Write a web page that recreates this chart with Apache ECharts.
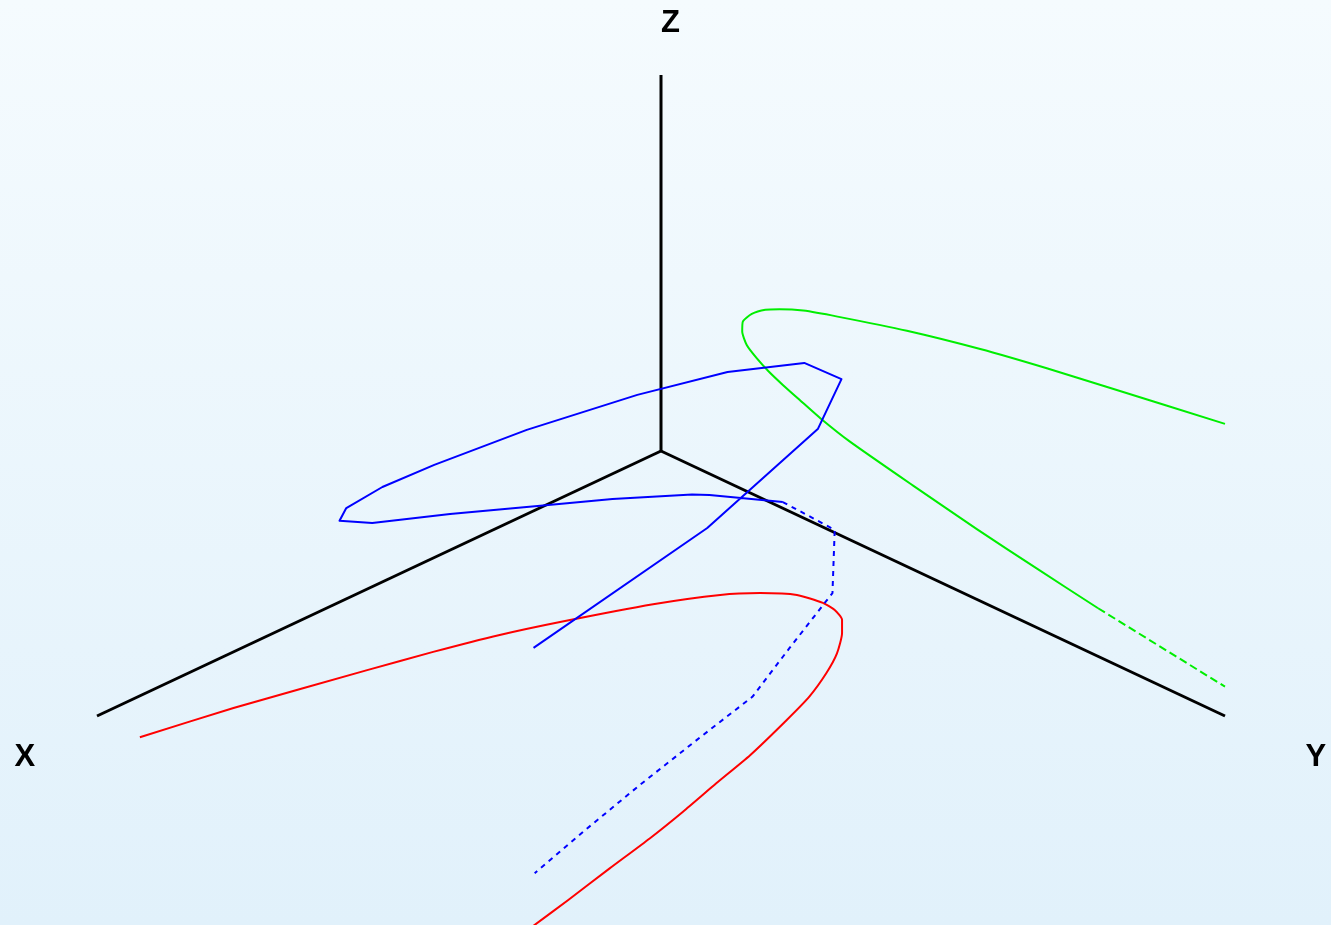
<!DOCTYPE html>
<html>
<head>
<meta charset="utf-8">
<title>3D curve with projections</title>
<script src="https://cdn.jsdelivr.net/npm/echarts@6/dist/echarts.min.js"></script>
<style>
  html, body { margin: 0; padding: 0; width: 100%; height: 100%; overflow: hidden; }
  #chart { width: 1331px; height: 925px; }
</style>
</head>
<body>
<div id="chart"></div>
<script>
// ---- data (x, y, z in box units) ----
const axisEnds = {
  X: [[0, 0, 0], [1, 0, 0]],
  Y: [[0, 0, 0], [0, 1, 0]],
  Z: [[0, 0, 0], [0, 0, 1]]
};
const axisLabels = [
  { name: 'X', pos: [1.128, 0, -0.019] },
  { name: 'Y', pos: [0, 1.161, 0.004] },
  { name: 'Z', pos: [0, 0.017, 1.148] }
];

// projection onto the floor (z = 0)
const redCurve = [
  [1.002, 0.078, 0], [0.864, 0.106, 0], [0.674, 0.153, 0], [0.581, 0.177, 0],
  [0.490, 0.204, 0], [0.412, 0.233, 0], [0.296, 0.282, 0],
  [0.219, 0.324, 0], [0.180, 0.356, 0], [0.151, 0.392, 0], [0.143, 0.430, 0],
  [0.146, 0.454, 0], [0.158, 0.479, 0], [0.183, 0.504, 0], [0.226, 0.538, 0],
  [0.273, 0.566, 0], [0.332, 0.595, 0], [0.396, 0.619, 0], [0.495, 0.653, 0],
  [0.578, 0.676, 0], [0.661, 0.700, 0], [0.741, 0.721, 0], [0.833, 0.742, 0],
  [0.930, 0.765, 0], [1.010, 0.783, 0]
];

// projection onto the back wall (x = 0)
const greenCurve = [
  [0, 1.000, 0.777], [0, 0.801, 0.730], [0, 0.684, 0.702], [0, 0.566, 0.670],
  [0, 0.436, 0.627], [0, 0.313, 0.578], [0, 0.252, 0.551], [0, 0.210, 0.525],
  [0, 0.185, 0.506], [0, 0.161, 0.478], [0, 0.145, 0.446], [0, 0.144, 0.419],
  [0, 0.152, 0.389], [0, 0.170, 0.366], [0, 0.191, 0.346], [0, 0.216, 0.328],
  [0, 0.246, 0.309], [0, 0.283, 0.286], [0, 0.335, 0.261], [0, 0.447, 0.223],
  [0, 0.560, 0.187], [0, 0.666, 0.157], [0, 0.775, 0.128]
];
const greenCurveHidden = [
  [0, 0.775, 0.128], [0, 1.000, 0.078]
];

// the space curve itself
const blueCurve = [
  [0.713, 0.487, 0.322], [0.559, 0.641, 0.641], [0.461, 0.739, 0.904],
  [0.440, 0.760, 1.037], [0.473, 0.727, 1.080], [0.541, 0.659, 1.056],
  [0.621, 0.579, 0.995], [0.719, 0.481, 0.902], [0.801, 0.399, 0.809],
  [0.847, 0.353, 0.750], [0.879, 0.321, 0.694], [0.885, 0.315, 0.660],
  [0.856, 0.344, 0.654], [0.787, 0.413, 0.678], [0.707, 0.493, 0.700],
  [0.643, 0.557, 0.718], [0.573, 0.628, 0.731], [0.557, 0.643, 0.729],
  [0.492, 0.708, 0.710]
];
const blueCurveHidden = [
  [0.492, 0.708, 0.710], [0.446, 0.754, 0.636], [0.448, 0.752, 0.468],
  [0.461, 0.739, 0.418], [0.486, 0.714, 0.322], [0.519, 0.681, 0.192],
  [0.565, 0.635, 0.085], [0.619, 0.581, -0.043], [0.667, 0.533, -0.162],
  [0.712, 0.488, -0.277]
];

// ---- view ----
const ORIGIN = [661, 451];             // where (0,0,0) lands on the canvas
const PX = { h: 564, d: 265, z: 376 }; // pixel extent of a unit along each screen direction
const W = 1331, H = 925;
const DEPTH = PX.d / PX.z;

function project(p) {
  const [x, y, z] = p;
  return [y - x, z - DEPTH * (x + y)];
}
const proj = arr => arr.map(project);

const chart = echarts.init(document.getElementById('chart'), null, { renderer: 'canvas' });

function lineSeries(name, pts, color, dash, smooth) {
  return {
    name, type: 'line', data: proj(pts), showSymbol: false, symbol: 'none',
    silent: true, animation: false, clip: false, smooth: smooth || false,
    lineStyle: { color, width: 2, type: dash || 'solid', cap: 'butt', join: 'round' },
    z: 2
  };
}

const option = {
  animation: false,
  backgroundColor: {
    type: 'linear', x: 0, y: 0, x2: 0, y2: 1,
    colorStops: [{ offset: 0, color: '#f5fbfe' }, { offset: 1, color: '#e1f1fb' }]
  },
  grid: { left: 0, right: 0, top: 0, bottom: 0 },
  xAxis: {
    type: 'value', min: -ORIGIN[0] / PX.h, max: (W - ORIGIN[0]) / PX.h,
    show: false
  },
  yAxis: {
    type: 'value', min: -(H - ORIGIN[1]) / PX.z, max: ORIGIN[1] / PX.z,
    show: false
  },
  series: [
    ...Object.keys(axisEnds).map(k => ({
      name: 'axis ' + k, type: 'line', data: proj(axisEnds[k]), symbol: 'none',
      silent: true, animation: false, clip: false,
      lineStyle: { color: '#000', width: 3, cap: 'butt' }, z: 1
    })),
    lineSeries('floor', redCurve, '#ff0000', null, 0.2),
    lineSeries('wall', greenCurve, '#00ee00', null, 0.2),
    lineSeries('wall hidden', greenCurveHidden, '#00ee00', [8, 4]),
    lineSeries('curve', blueCurve, '#0000ff'),
    lineSeries('curve hidden', blueCurveHidden, '#0000ff', [5, 5]),
    {
      name: 'axis labels', type: 'scatter', symbolSize: 0, silent: true, animation: false,
      itemStyle: { color: '#000', opacity: 0 },
      data: axisLabels.map(l => ({ value: project(l.pos), name: l.name })),
      label: {
        show: true, position: 'inside', formatter: '{b}',
        fontFamily: 'Liberation Sans', fontWeight: 'bold', fontSize: 31, color: '#000',
        textBorderWidth: 0, textBorderColor: 'transparent', opacity: 1,
        align: 'center', verticalAlign: 'middle'
      }
    }
  ]
};
chart.setOption(option);
</script>
</body>
</html>
